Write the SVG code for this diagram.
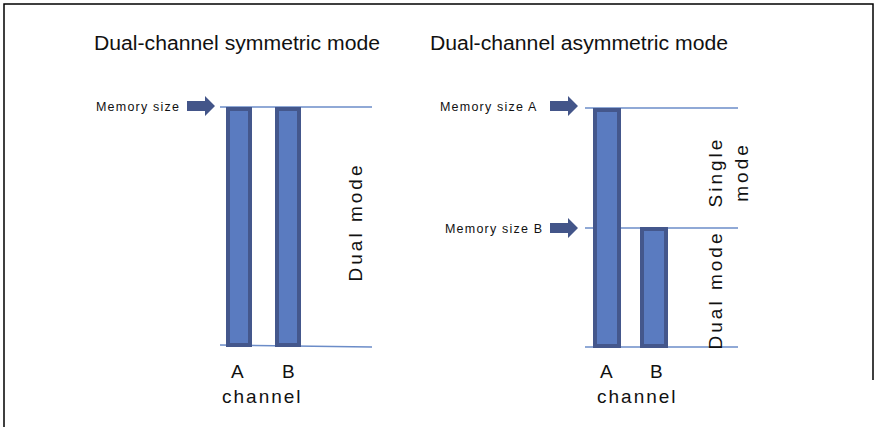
<svg xmlns="http://www.w3.org/2000/svg" width="877" height="427" viewBox="0 0 877 427">
<style>
text{font-family:"Liberation Sans",Arial,sans-serif;fill:#111}
.title{font-size:20px}
.mem{font-size:12.5px;letter-spacing:1.2px}
.lab{font-size:19px;letter-spacing:2px}
.vert{font-size:19px;letter-spacing:3px;text-anchor:middle}
.bar{fill:#5a7bc0;stroke:#44578c;stroke-width:4}
.hl{stroke:#6b8cc8;stroke-width:1.5;fill:none}
.arr{fill:#435589}
.frame{stroke:#000;stroke-width:1.5;fill:none}
</style>
<defs>
<path id="arrow" d="M0,-5 H18 V-10 L28,0 L18,10 V5 H0 Z"/>
</defs>
<g id="frame"><path class="frame" d="M4,427 V4 H873 V380"/></g>
<g id="connectors">
<line class="hl" x1="220" y1="107" x2="372" y2="107"/>
<line class="hl" x1="220" y1="345" x2="372" y2="347"/>
<line class="hl" x1="585" y1="108" x2="738" y2="108"/>
<line class="hl" x1="585" y1="228" x2="738" y2="228"/>
<line class="hl" x1="585" y1="347" x2="738" y2="347"/>
<use href="#arrow" class="arr" x="187" y="106"/>
<use href="#arrow" class="arr" x="550" y="106"/>
<use href="#arrow" class="arr" x="550" y="228"/>
</g>
<g id="left-panel">
<text class="title" x="94" y="50" textLength="286" lengthAdjust="spacingAndGlyphs">Dual-channel symmetric mode</text>
<text class="mem" x="96" y="111">Memory size</text>
<rect id="barA-sym" class="bar" x="228" y="109" width="22" height="236"/>
<rect id="barB-sym" class="bar" x="277" y="109" width="22" height="236"/>
<text class="vert" transform="translate(362,222) rotate(-90)">Dual mode</text>
<text class="lab" x="231" y="378">A</text>
<text class="lab" x="282" y="378">B</text>
<text class="lab" x="222" y="403">channel</text>
</g>
<g id="right-panel">
<text class="title" x="430" y="50" textLength="298" lengthAdjust="spacingAndGlyphs">Dual-channel asymmetric mode</text>
<text class="mem" x="440" y="111">Memory size A</text>
<text class="mem" x="445" y="233">Memory size B</text>
<rect id="barA-asym" class="bar" x="595" y="110" width="24" height="236"/>
<rect id="barB-asym" class="bar" x="642" y="229" width="24" height="117"/>
<text class="vert" transform="translate(722,172) rotate(-90)">Single</text>
<text class="vert" transform="translate(748,172) rotate(-90)">mode</text>
<text class="vert" transform="translate(722,290) rotate(-90)">Dual mode</text>
<text class="lab" x="600" y="378">A</text>
<text class="lab" x="650" y="378">B</text>
<text class="lab" x="597" y="403">channel</text>
</g>
</svg>
